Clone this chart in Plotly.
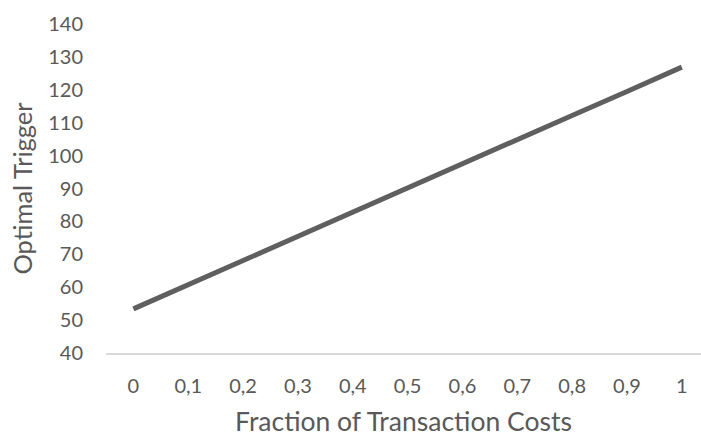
import plotly.graph_objects as go

# Fraction of transaction costs (category positions) and resulting optimal trigger
fraction_labels = ["0", "0,1", "0,2", "0,3", "0,4", "0,5", "0,6", "0,7", "0,8", "0,9", "1"]
optimal_trigger = [53.4, 60.8, 68.1, 75.4, 82.8, 90.1, 97.5, 104.8, 112.2, 119.5, 126.9]
y_ticks = [40, 50, 60, 70, 80, 90, 100, 110, 120, 130, 140]

positions = list(range(len(fraction_labels)))
text_color = "#595959"
font_family = "Lato"

fig = go.Figure(
    go.Scatter(
        x=positions,
        y=optimal_trigger,
        mode="lines",
        line=dict(color="#5f5f5f", width=5),
        hoverinfo="skip",
    )
)

fig.update_layout(
    width=701,
    height=437,
    margin=dict(l=106, r=0, t=24, b=84),
    paper_bgcolor="white",
    plot_bgcolor="white",
    showlegend=False,
    font=dict(family=font_family, color=text_color, size=20),
)

fig.update_xaxes(
    range=[-0.5, 10.35],
    tickmode="array",
    tickvals=positions,
    ticktext=fraction_labels,
    showgrid=False,
    zeroline=False,
    showline=True,
    linecolor="#d9d9d9",
    linewidth=1.5,
    ticks="",
    ticklabelstandoff=14,
    tickfont=dict(size=20, color=text_color),
    title=dict(text="Fraction of Transaction Costs", font=dict(size=26.5, color=text_color), standoff=20),
)

fig.update_yaxes(
    range=[40, 140],
    tickmode="array",
    tickvals=y_ticks,
    showgrid=False,
    zeroline=False,
    showline=False,
    ticks="",
    ticklabelstandoff=22,
    tickfont=dict(size=20, color=text_color),
    title=dict(text="Optimal Trigger", font=dict(size=25.5, color=text_color), standoff=8),
)

fig.write_html("out.html")
